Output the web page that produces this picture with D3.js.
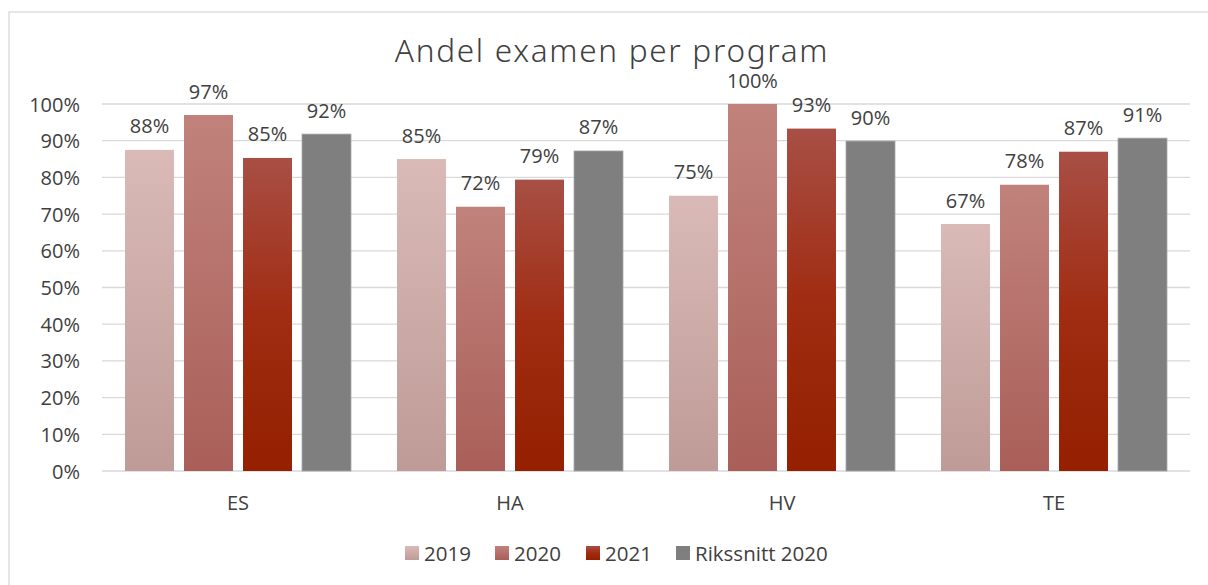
<!DOCTYPE html>
<html>
<head>
<meta charset="utf-8">
<script src="https://cdn.jsdelivr.net/npm/d3@7"></script>
<style>
  body { margin: 0; background: #fff; }
  svg text { fill: #404040; }
</style>
</head>
<body>
<div id="container"></div>
<script>
const programs = ["ES", "HA", "HV", "TE"];
const seriesNames = ["2019", "2020", "2021", "Rikssnitt 2020"];
const values2019 = [0.875, 0.85, 0.75, 0.673];
const values2020 = [0.97, 0.72, 1.0, 0.78];
const values2021 = [0.853, 0.794, 0.933, 0.87];
const valuesRiks = [0.918, 0.872, 0.899, 0.907];
const yTicks = [0, 0.1, 0.2, 0.3, 0.4, 0.5, 0.6, 0.7, 0.8, 0.9, 1.0];

const w = 1208, h = 585;
const margin = { left: 102, right: 18, top: 104, bottom: 114 };
const font = "'Open Sans', sans-serif";

const svg = d3.select("#container").append("svg")
  .attr("width", w).attr("height", h);

// gradients per series
const defs = svg.append("defs");
const gradStops = [
  [["0%", "#d9bab7"], ["100%", "#bf9b97"]],
  [["0%", "#c1827c"], ["100%", "#a95f58"]],
  [["0%", "#a84f45"], ["50%", "#a02c12"], ["100%", "#942000"]],
  [["0%", "#7f7f7f"], ["100%", "#7f7f7f"]]
];
gradStops.forEach((stops, i) => {
  const g = defs.append("linearGradient").attr("id", "g" + i)
    .attr("x1", 0).attr("y1", 0).attr("x2", 0).attr("y2", 1);
  stops.forEach(s => g.append("stop").attr("offset", s[0]).attr("stop-color", s[1]));
});

// chart frame
svg.append("rect").attr("x", 9).attr("y", 12).attr("width", 1210).attr("height", 600)
  .attr("fill", "none").attr("stroke", "#d9d9d9").attr("stroke-width", 1.3);

const x0 = d3.scaleBand().domain(programs)
  .range([margin.left, w - margin.right]).paddingInner(0).paddingOuter(0);
const x1 = d3.scaleBand().domain(seriesNames)
  .range([0, x0.bandwidth()]).paddingInner(0.17).paddingOuter(0.39);
const y = d3.scaleLinear().domain([0, 1]).range([h - margin.bottom, margin.top]);

// gridlines
svg.append("g").selectAll("line").data(yTicks).enter().append("line")
  .attr("x1", margin.left).attr("x2", w - margin.right)
  .attr("y1", d => y(d)).attr("y2", d => y(d))
  .attr("stroke", "#d9d9d9").attr("stroke-width", 1.3);

// y labels
svg.append("g").selectAll("text").data(yTicks).enter().append("text")
  .attr("x", 80).attr("y", d => y(d) + 7.5)
  .attr("text-anchor", "end")
  .style("font-family", font).style("font-size", "20px")
  .text(d => d3.format(".0%")(d));

const series = [values2019, values2020, values2021, valuesRiks];
const rows = [];
series.forEach((vals, si) => vals.forEach((v, pi) => rows.push({ s: seriesNames[si], si: si, p: programs[pi], v: v })));

svg.append("g").selectAll("rect").data(rows).enter().append("rect")
  .attr("x", d => x0(d.p) + x1(d.s))
  .attr("y", d => y(d.v))
  .attr("width", x1.bandwidth())
  .attr("height", d => y(0) - y(d.v))
  .attr("fill", d => "url(#g" + d.si + ")")
  .attr("stroke", d => d.si === 3 ? "#a6a6a6" : "none")
  .attr("stroke-width", 0.8);

svg.append("g").selectAll("text").data(rows).enter().append("text")
  .attr("x", d => x0(d.p) + x1(d.s) + x1.bandwidth() / 2)
  .attr("y", d => y(d.v) - 16.5)
  .attr("text-anchor", "middle")
  .style("font-family", font).style("font-size", "20px")
  .text(d => d3.format(".0%")(d.v));

// x labels
svg.append("g").selectAll("text").data(programs).enter().append("text")
  .attr("x", d => x0(d) + x0.bandwidth() / 2)
  .attr("y", y(0) + 39)
  .attr("text-anchor", "middle")
  .style("font-family", font).style("font-size", "20px")
  .text(d => d);

// title
svg.append("text").attr("x", 612).attr("y", 62).attr("text-anchor", "middle")
  .style("font-family", "'Noto Sans', sans-serif").style("font-weight", 300)
  .style("font-size", "31.5px").style("letter-spacing", "1.7px").style("fill", "#404040")
  .text("Andel examen per program");

// legend
const legendX = [405, 495, 586, 676];
const legend = svg.append("g").selectAll("g").data(seriesNames).enter().append("g")
  .attr("transform", (d, i) => "translate(" + legendX[i] + ",546)");
legend.append("rect").attr("width", 14).attr("height", 14)
  .attr("fill", (d, i) => "url(#g" + i + ")");
legend.append("text").attr("x", 19).attr("y", 15)
  .style("font-family", font).style("font-size", "20.5px")
  .text(d => d);
</script>
</body>
</html>
